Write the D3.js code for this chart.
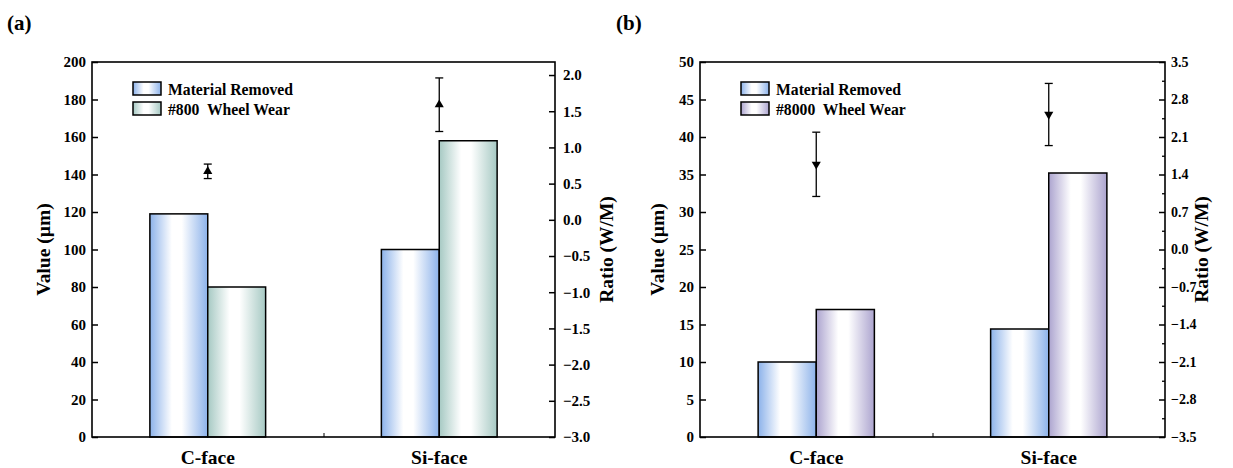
<!DOCTYPE html>
<html>
<head>
<meta charset="utf-8">
<script src="https://cdn.jsdelivr.net/npm/d3@7"></script>
<style>
  body { margin: 0; background: #fff; }
  svg { display: block; font-family: "Liberation Serif", "Times New Roman", serif; font-weight: bold; }
  svg text { font-family: "Liberation Serif", "Times New Roman", serif; font-weight: bold; }
</style>
</head>
<body>
<svg id="chart" width="1233" height="468"></svg>
<script>
// data
const categories = ["C-face", "Si-face"];

const removedA = [119, 100];
const wearA = [80, 158];
const ratioA = [0.67, 1.59];
const ratioErrA = [0.1, 0.37];

const removedB = [10, 14.4];
const wearB = [17, 35.2];
const ratioB = [1.59, 2.52];
const ratioErrB = [0.6, 0.58];

const valueTicksA = [0, 20, 40, 60, 80, 100, 120, 140, 160, 180, 200];
const ratioTicksA = [-3.0, -2.5, -2.0, -1.5, -1.0, -0.5, 0.0, 0.5, 1.0, 1.5, 2.0];
const valueTicksB = [0, 5, 10, 15, 20, 25, 30, 35, 40, 45, 50];
const ratioTicksB = [-3.5, -2.8, -2.1, -1.4, -0.7, 0.0, 0.7, 1.4, 2.1, 2.8, 3.5];
const ratioMinorB = [-3.15, -2.45, -1.75, -1.05, -0.35, 0.35, 1.05, 1.75, 2.45, 3.15];

const legendA = ["Material Removed", "#800  Wheel Wear"];
const legendB = ["Material Removed", "#8000  Wheel Wear"];

const svg = d3.select("#chart");
const defs = svg.append("defs");
const serif = "Liberation Serif";

function gradient(id, edge) {
  const g = defs.append("linearGradient").attr("id", id)
    .attr("x1", "0%").attr("x2", "100%").attr("y1", "0%").attr("y2", "0%");
  g.append("stop").attr("offset", "0%").attr("stop-color", edge);
  g.append("stop").attr("offset", "38%").attr("stop-color", "#ffffff");
  g.append("stop").attr("offset", "55%").attr("stop-color", "#ffffff");
  g.append("stop").attr("offset", "100%").attr("stop-color", edge);
}
gradient("gBlue", "#8cb2ea");
gradient("gTeal", "#a6c9c3");
gradient("gPurple", "#aca4cf");

function drawPanel(p) {
  const top = 62, bottom = 437;
  const g = svg.append("g");

  const x = d3.scaleBand().domain(categories).range([p.left, p.right]);
  const y = d3.scaleLinear().domain(p.yDomain).range([bottom, top]);
  const yR = d3.scaleLinear().domain(p.rDomain).range([bottom, top]);
  const bw = x.bandwidth() * 0.25;

  // bars
  g.selectAll(".mr").data(p.removed).enter().append("rect")
    .attr("x", (d, i) => x(categories[i]) + x.bandwidth() / 2 - bw)
    .attr("y", d => y(d))
    .attr("width", bw)
    .attr("height", d => bottom - y(d))
    .attr("fill", "url(#gBlue)")
    .attr("stroke", "#000").attr("stroke-width", 1.5);
  g.selectAll(".ww").data(p.wear).enter().append("rect")
    .attr("x", (d, i) => x(categories[i]) + x.bandwidth() / 2)
    .attr("y", d => y(d))
    .attr("width", bw)
    .attr("height", d => bottom - y(d))
    .attr("fill", p.wearFill)
    .attr("stroke", "#000").attr("stroke-width", 1.5);

  // ratio with error bars
  const cx = (d, i) => x(categories[i]) + x.bandwidth() / 2;
  const eb = g.selectAll(".eb").data(p.ratio).enter().append("g");
  eb.append("line")
    .attr("x1", cx).attr("x2", cx)
    .attr("y1", (d, i) => yR(d + p.err[i])).attr("y2", (d, i) => yR(d - p.err[i]))
    .attr("stroke", "#000").attr("stroke-width", 1.3);
  [1, -1].forEach(s => {
    eb.append("line")
      .attr("x1", (d, i) => cx(d, i) - 4).attr("x2", (d, i) => cx(d, i) + 4)
      .attr("y1", (d, i) => yR(d + s * p.err[i])).attr("y2", (d, i) => yR(d + s * p.err[i]))
      .attr("stroke", "#000").attr("stroke-width", 1.3);
  });
  eb.append("path")
    .attr("d", d3.symbol().type(d3.symbolTriangle).size(36))
    .attr("transform", (d, i) => `translate(${cx(d, i)},${yR(d)}) rotate(${p.down ? 180 : 0})`)
    .attr("fill", "#000");

  // axes
  const left = g.append("g").attr("transform", `translate(${p.left},0)`)
    .call(d3.axisLeft(y).tickValues(p.yTicks).tickSizeInner(-6).tickSizeOuter(0).tickPadding(6).tickFormat(d3.format("d")));
  const right = g.append("g").attr("transform", `translate(${p.right},0)`)
    .call(d3.axisRight(yR).tickValues(p.rTicks).tickSizeInner(-6).tickSizeOuter(0).tickPadding(p.rPad).tickFormat(d3.format(".1f")));
  if (p.rMinor) {
    g.append("g").attr("transform", `translate(${p.right},0)`)
      .call(d3.axisRight(yR).tickValues(p.rMinor).tickSizeInner(-3).tickSizeOuter(0).tickFormat(""))
      .selectAll("line").attr("stroke-width", 1.3);
  }
  const mid = d3.scaleLinear().domain([0, categories.length]).range([p.left, p.right]);
  g.append("g").attr("transform", `translate(0,${bottom})`)
    .call(d3.axisBottom(mid).tickValues([1]).tickSizeInner(-4).tickSizeOuter(0).tickFormat(""));
  const bottomAxis = g.append("g").attr("transform", `translate(0,${bottom})`)
    .call(d3.axisBottom(x).tickSize(0).tickPadding(13))
    .attr("font-family", serif).attr("font-size", 19.5);
  bottomAxis.selectAll("text").attr("fill", "#000");

  left.attr("font-family", serif).attr("font-size", 15);
  right.attr("font-family", serif).attr("font-size", p.rFont);
  [left, right].forEach(a => {
    a.selectAll("text").attr("fill", "#000");
    a.selectAll("line").attr("stroke-width", 1.5);
  });
  g.selectAll(".domain").remove();

  // frame
  g.append("rect")
    .attr("x", p.left).attr("y", top)
    .attr("width", p.right - p.left).attr("height", bottom - top)
    .attr("fill", "none").attr("stroke", "#000").attr("stroke-width", 1.6);

  // axis titles
  g.append("text")
    .attr("transform", `translate(${p.titleL},${(top + bottom) / 2}) rotate(-90)`)
    .attr("text-anchor", "middle").attr("dominant-baseline", "central")
    .attr("font-size", 19.5).text("Value (\u00b5m)");
  g.append("text")
    .attr("transform", `translate(${p.titleR},${(top + bottom) / 2}) rotate(-90)`)
    .attr("text-anchor", "middle").attr("dominant-baseline", "central")
    .attr("font-size", 19.5).text("Ratio (W/M)");

  // legend
  const fills = ["url(#gBlue)", p.wearFill];
  const lg = g.selectAll(".lg").data(p.legend).enter().append("g")
    .attr("transform", (d, i) => `translate(${p.legendX},${82 + i * 20})`);
  lg.append("rect").attr("width", 28).attr("height", 13)
    .attr("fill", (d, i) => fills[i]).attr("stroke", "#000").attr("stroke-width", 1.5);
  lg.append("text").attr("x", 35).attr("y", 7).attr("dominant-baseline", "central")
    .attr("font-size", 15.7).style("white-space", "pre").text(d => d);

  // panel letter
  g.append("text").attr("x", p.letterX).attr("y", 30).attr("font-size", 21).text(p.letter);
}

drawPanel({
  left: 92, right: 555,
  yDomain: [0, 200], rDomain: [-3, 2.18],
  yTicks: valueTicksA, rTicks: ratioTicksA, rFont: 15, rPad: 8,
  removed: removedA, wear: wearA, ratio: ratioA, err: ratioErrA,
  wearFill: "url(#gTeal)", down: false,
  titleL: 43, titleR: 606, legendX: 133, legend: legendA,
  letter: "(a)", letterX: 7
});

drawPanel({
  left: 700, right: 1165,
  yDomain: [0, 50], rDomain: [-3.5, 3.5],
  yTicks: valueTicksB, rTicks: ratioTicksB, rMinor: ratioMinorB, rFont: 14, rPad: 6,
  removed: removedB, wear: wearB, ratio: ratioB, err: ratioErrB,
  wearFill: "url(#gPurple)", down: true,
  titleL: 657, titleR: 1201, legendX: 741, legend: legendB,
  letter: "(b)", letterX: 616
});
</script>
</body>
</html>
